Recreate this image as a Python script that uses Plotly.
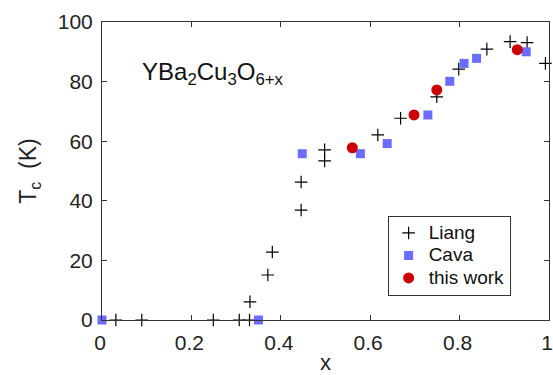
import plotly.graph_objects as go

liang_x = [0.031, 0.089, 0.249, 0.307, 0.33, 0.331, 0.371, 0.381, 0.4455, 0.4455,
           0.498, 0.498, 0.617, 0.668, 0.749, 0.798, 0.861, 0.913, 0.951, 0.992]
liang_t = [0, 0, 0, 0, 0, 6.1, 15.1, 22.8, 46.3, 36.9,
           57.1, 53.4, 62.1, 67.7, 74.9, 84.2, 90.9, 93.4, 93.1, 86.1]

cava_x = [0.0, 0.35, 0.448, 0.578, 0.638, 0.729, 0.778, 0.81, 0.838, 0.949]
cava_t = [0, 0, 55.8, 55.8, 59.2, 68.8, 80.1, 86.1, 87.8, 90.0]

work_x = [0.56, 0.698, 0.749, 0.929]
work_t = [57.8, 68.8, 77.2, 90.7]

xticks = [0, 0.2, 0.4, 0.6, 0.8, 1]
xticklabels = ["0", "0.2", "0.4", "0.6", "0.8", "1"]
yticks = [0, 20, 40, 60, 80, 100]

FONT = "Liberation Sans, Arial, Helvetica, sans-serif"


def leg(name):
    return "<span style='font-size:19px'>" + name + "</span>"


fig = go.Figure()
fig.add_trace(go.Scatter(x=liang_x, y=liang_t, mode="markers", name=leg("Liang"),
                         marker=dict(symbol="cross-thin", size=9, color="black",
                                     line=dict(color="black", width=1.2)),
                         cliponaxis=False))
fig.add_trace(go.Scatter(x=cava_x, y=cava_t, mode="markers", name=leg("Cava"),
                         marker=dict(symbol="square", size=9, color="#6b6bff",
                                     line=dict(width=0)),
                         cliponaxis=False))
fig.add_trace(go.Scatter(x=work_x, y=work_t, mode="markers", name=leg("this work"),
                         marker=dict(symbol="circle", size=11, color="#cc0000",
                                     line=dict(width=0)),
                         cliponaxis=False))

axis_common = dict(showgrid=False, zeroline=False, showline=True, linecolor="#333333",
                   linewidth=1, mirror="ticks", ticks="inside", ticklen=5,
                   tickcolor="#333333", ticklabeloverflow="allow", ticklabelstandoff=4,
                   automargin=False,
                   tickfont=dict(size=21, color="#222222", family=FONT))

fig.update_xaxes(range=[0, 1], tickvals=xticks, ticktext=xticklabels, ticklabelshift=-2,
                 title=dict(text="x", font=dict(size=22, color="#222222", family=FONT), standoff=6),
                 **axis_common)
fig.update_yaxes(range=[0, 100], tickvals=yticks,
                 title=dict(text="T<sub>c</sub>  (K)", font=dict(size=23, color="#222222", family=FONT), standoff=14),
                 **axis_common)

fig.add_annotation(x=0.086, y=82.6, xref="x", yref="y", text="YBa<sub>2</sub>Cu<sub>3</sub>O<sub>6+x</sub>",
                   showarrow=False, xanchor="left", yanchor="middle",
                   font=dict(size=24, color="#111111", family=FONT))

fig.update_layout(
    width=553, height=375,
    margin=dict(l=102, r=4, t=22, b=55),
    plot_bgcolor="white", paper_bgcolor="white",
    font=dict(family=FONT),
    legend=dict(x=0.639, y=0.35, xanchor="left", yanchor="top",
                bordercolor="#333333", borderwidth=1, bgcolor="white",
                font=dict(size=15, color="#111111", family=FONT),
                itemwidth=30, tracegroupgap=0),
    showlegend=True,
)

fig.write_html("out.html")
